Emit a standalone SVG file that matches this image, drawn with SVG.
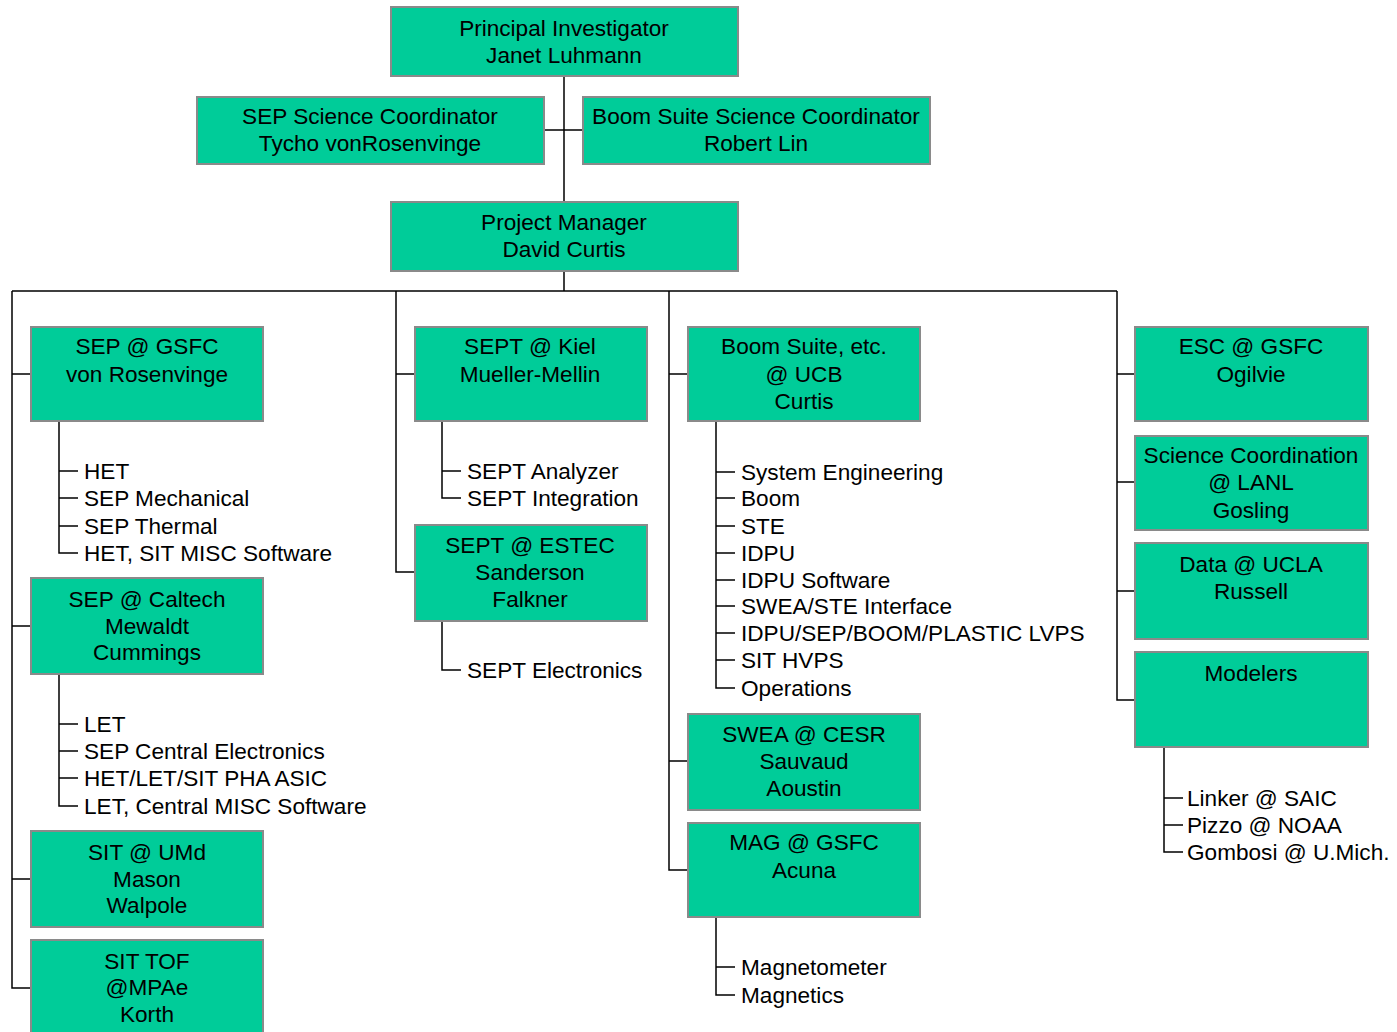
<svg xmlns="http://www.w3.org/2000/svg" width="1397" height="1032" viewBox="0 0 1397 1032">
<style>
.box{fill:#00CC99;stroke:#8a8a8a;stroke-width:2}
.t{font-family:"Liberation Sans",Arial,sans-serif;font-size:22.6px;fill:#000;text-anchor:middle}
.s{font-family:"Liberation Sans",Arial,sans-serif;font-size:22.6px;fill:#000}
.c{stroke:#000;stroke-width:1.5;fill:none}
</style>
<rect width="1397" height="1032" fill="#fff"/>
<g id="connectors">
<path class="c" d="M564 76V202M544 130H583M564 271V291M12 291H1117M12 291V988H31M12 374H31M12 626H31M12 879H31M396 291V572H415M396 374H415M669 291V870H688M669 374H688M669 761H688M1117 291V700H1135M1117 374H1135M1117 482H1135M1117 591H1135"/>
<path class="c" d="M59 421V553H78M59 471H78M59 498H78M59 526H78"/>
<path class="c" d="M59 674V806H78M59 724H78M59 751H78M59 778H78"/>
<path class="c" d="M442 421V498H461M442 471H461"/>
<path class="c" d="M442 621V670H461"/>
<path class="c" d="M716 421V688H735M716 472H735M716 498H735M716 526H735M716 553H735M716 580H735M716 606H735M716 633H735M716 660H735"/>
<path class="c" d="M716 917V995H735M716 967H735"/>
<path class="c" d="M1164 747V852H1183M1164 798H1183M1164 825H1183"/>
</g>
<g id="pi"><rect class="box" x="391" y="7" width="347" height="69"/><text class="t" x="564" y="36">Principal Investigator</text><text class="t" x="564" y="63">Janet Luhmann</text></g>
<g id="sep-sc"><rect class="box" x="197" y="97" width="347" height="67"/><text class="t" x="370" y="124">SEP Science Coordinator</text><text class="t" x="370" y="151">Tycho vonRosenvinge</text></g>
<g id="boom-sc"><rect class="box" x="583" y="97" width="347" height="67"/><text class="t" x="756" y="124">Boom Suite Science Coordinator</text><text class="t" x="756" y="151">Robert Lin</text></g>
<g id="pm"><rect class="box" x="391" y="202" width="347" height="69"/><text class="t" x="564" y="230">Project Manager</text><text class="t" x="564" y="257">David Curtis</text></g>

<g id="sep-gsfc"><rect class="box" x="31" y="327" width="232" height="94"/><text class="t" x="147" y="354">SEP @ GSFC</text><text class="t" x="147" y="382">von Rosenvinge</text></g>
<g id="sep-gsfc-items"><text class="s" x="84" y="479">HET</text><text class="s" x="84" y="506">SEP Mechanical</text><text class="s" x="84" y="534">SEP Thermal</text><text class="s" x="84" y="561">HET, SIT MISC Software</text></g>
<g id="sep-caltech"><rect class="box" x="31" y="578" width="232" height="96"/><text class="t" x="147" y="607">SEP @ Caltech</text><text class="t" x="147" y="634">Mewaldt</text><text class="t" x="147" y="660">Cummings</text></g>
<g id="sep-caltech-items"><text class="s" x="84" y="732">LET</text><text class="s" x="84" y="759">SEP Central Electronics</text><text class="s" x="84" y="786">HET/LET/SIT PHA ASIC</text><text class="s" x="84" y="814">LET, Central MISC Software</text></g>
<g id="sit-umd"><rect class="box" x="31" y="831" width="232" height="96"/><text class="t" x="147" y="860">SIT @ UMd</text><text class="t" x="147" y="887">Mason</text><text class="t" x="147" y="913">Walpole</text></g>
<g id="sit-tof"><rect class="box" x="31" y="940" width="232" height="100"/><text class="t" x="147" y="969">SIT TOF</text><text class="t" x="147" y="995">@MPAe</text><text class="t" x="147" y="1022">Korth</text></g>

<g id="sept-kiel"><rect class="box" x="415" y="327" width="232" height="94"/><text class="t" x="530" y="354">SEPT @ Kiel</text><text class="t" x="530" y="382">Mueller-Mellin</text></g>
<g id="sept-kiel-items"><text class="s" x="467" y="479">SEPT Analyzer</text><text class="s" x="467" y="506">SEPT Integration</text></g>
<g id="sept-estec"><rect class="box" x="415" y="525" width="232" height="96"/><text class="t" x="530" y="553">SEPT @ ESTEC</text><text class="t" x="530" y="580">Sanderson</text><text class="t" x="530" y="607">Falkner</text></g>
<g id="sept-estec-items"><text class="s" x="467" y="678">SEPT Electronics</text></g>

<g id="boom-ucb"><rect class="box" x="688" y="327" width="232" height="94"/><text class="t" x="804" y="354">Boom Suite, etc.</text><text class="t" x="804" y="382">@ UCB</text><text class="t" x="804" y="409">Curtis</text></g>
<g id="boom-ucb-items"><text class="s" x="741" y="480">System Engineering</text><text class="s" x="741" y="506">Boom</text><text class="s" x="741" y="534">STE</text><text class="s" x="741" y="561">IDPU</text><text class="s" x="741" y="588">IDPU Software</text><text class="s" x="741" y="614">SWEA/STE Interface</text><text class="s" x="741" y="641">IDPU/SEP/BOOM/PLASTIC LVPS</text><text class="s" x="741" y="668">SIT HVPS</text><text class="s" x="741" y="696">Operations</text></g>
<g id="swea-cesr"><rect class="box" x="688" y="714" width="232" height="96"/><text class="t" x="804" y="742">SWEA @ CESR</text><text class="t" x="804" y="769">Sauvaud</text><text class="t" x="804" y="796">Aoustin</text></g>
<g id="mag-gsfc"><rect class="box" x="688" y="823" width="232" height="94"/><text class="t" x="804" y="850">MAG @ GSFC</text><text class="t" x="804" y="878">Acuna</text></g>
<g id="mag-gsfc-items"><text class="s" x="741" y="975">Magnetometer</text><text class="s" x="741" y="1003">Magnetics</text></g>

<g id="esc-gsfc"><rect class="box" x="1135" y="327" width="233" height="94"/><text class="t" x="1251" y="354">ESC @ GSFC</text><text class="t" x="1251" y="382">Ogilvie</text></g>
<g id="sci-lanl"><rect class="box" x="1135" y="436" width="233" height="94"/><text class="t" x="1251" y="463">Science Coordination</text><text class="t" x="1251" y="490">@ LANL</text><text class="t" x="1251" y="518">Gosling</text></g>
<g id="data-ucla"><rect class="box" x="1135" y="543" width="233" height="96"/><text class="t" x="1251" y="572">Data @ UCLA</text><text class="t" x="1251" y="599">Russell</text></g>
<g id="modelers"><rect class="box" x="1135" y="652" width="233" height="95"/><text class="t" x="1251" y="681">Modelers</text></g>
<g id="modelers-items"><text class="s" x="1187" y="806">Linker @ SAIC</text><text class="s" x="1187" y="833">Pizzo @ NOAA</text><text class="s" x="1187" y="860">Gombosi @ U.Mich.</text></g>
</svg>
